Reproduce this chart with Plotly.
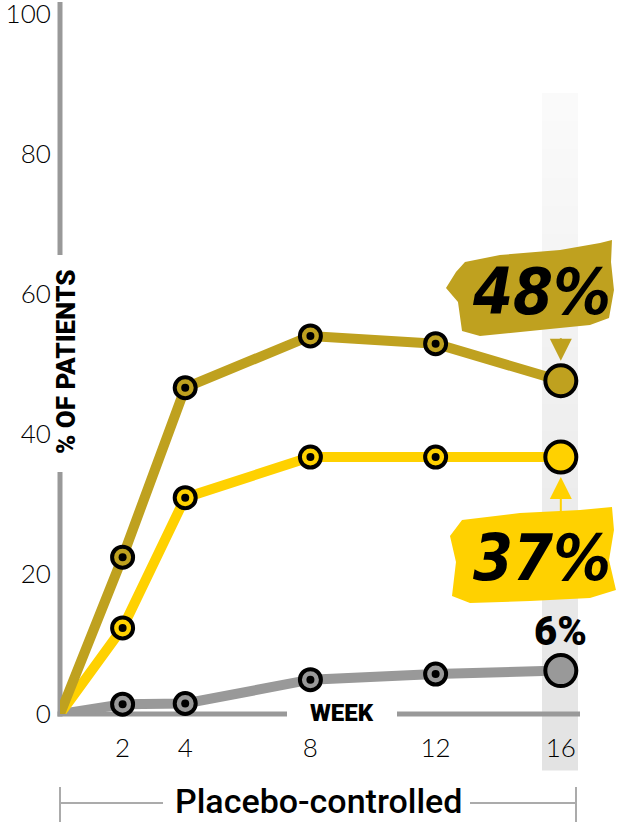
import plotly.graph_objects as go

# values (% of patients by week)
weeks = [0, 2, 4, 8, 12, 16]
high_dose = [0, 22.4, 46.6, 54.0, 52.9, 47.6]
low_dose = [0, 12.3, 30.9, 36.7, 36.7, 36.7]
placebo = [0, 1.4, 1.5, 4.9, 5.7, 6.2]

ytick_vals = [0, 20, 40, 60, 80, 100]
xtick_vals = [2, 4, 8, 12, 16]
end_labels = ["48%", "37%", "6%"]

GOLD = "#BFA11F"
YELLOW = "#FFD100"
GRAY = "#999999"
BRACKET = "#ABABAB"

# plot area: x 60..630 px, y 2..714 px
def px_x(p):
    return (p - 60) / 570.0

def px_y(p):
    return (714 - p) / 712.0

fig = go.Figure()

series = [(placebo, GRAY), (low_dose, YELLOW), (high_dose, GOLD)]

for vals, col in series:
    fig.add_trace(go.Scatter(x=weeks, y=vals, mode="lines",
                             line=dict(color=col, width=10),
                             hoverinfo="skip"))

for vals, col in series:
    # ring markers for intermediate weeks
    fig.add_trace(go.Scatter(x=weeks[1:-1], y=vals[1:-1], mode="markers",
                             marker=dict(size=21, color=col, line=dict(color="black", width=4)),
                             cliponaxis=False, hoverinfo="skip"))
    fig.add_trace(go.Scatter(x=weeks[1:-1], y=vals[1:-1], mode="markers",
                             marker=dict(size=8, color="black"),
                             cliponaxis=False, hoverinfo="skip"))
    # big end point
    fig.add_trace(go.Scatter(x=weeks[-1:], y=vals[-1:], mode="markers",
                             marker=dict(size=31, color=col, line=dict(color="black", width=4)),
                             cliponaxis=False, hoverinfo="skip"))

shapes = []

# shaded week-16 column, fading toward the top
n = 24
top, bot = 93, 770
for i in range(n):
    t = i / (n - 1)
    g = int(round(250 - (250 - 227) * t))
    y0 = top + (bot - top) * i / n
    y1 = top + (bot - top) * (i + 1) / n
    shapes.append(dict(type="rect", xref="paper", yref="paper",
                       x0=px_x(542), x1=px_x(578), y0=px_y(y1 + 0.5), y1=px_y(y0),
                       fillcolor="rgb(%d,%d,%d)" % (g, g, g), line=dict(width=0), layer="below"))

# broken axis lines
axis_segments = [
    (60, 2, 60, 255), (60, 472, 60, 716.5),
    (57.5, 714, 287, 714), (397, 714, 580, 714),
]
for x0, y0, x1, y1 in axis_segments:
    shapes.append(dict(type="line", xref="paper", yref="paper",
                       x0=px_x(x0), y0=px_y(y0), x1=px_x(x1), y1=px_y(y1),
                       line=dict(color=GRAY, width=5), layer="below"))

# bracket under the x axis
for x0, y0, x1, y1 in [(60, 803, 163, 803), (470, 803, 576, 803),
                       (60, 787, 60, 822), (576, 787, 576, 822)]:
    shapes.append(dict(type="line", xref="paper", yref="paper",
                       x0=px_x(x0), y0=px_y(y0), x1=px_x(x1), y1=px_y(y1),
                       line=dict(color=BRACKET, width=2)))

# rough brush-stroke backgrounds behind the big numbers
def brush_path(pts):
    return "M " + " L ".join("%.4f,%.4f" % (px_x(a), px_y(b)) for a, b in pts) + " Z"

brush_48 = [(465, 262), (500, 255), (560, 250), (600, 243), (612, 240), (611, 262),
            (614, 290), (609, 318), (590, 325), (540, 330), (480, 336), (462, 331),
            (458, 302), (446, 288), (456, 272)]
brush_37 = [(462, 520), (520, 513), (580, 510), (612, 507), (614, 530), (609, 560),
            (616, 590), (590, 598), (530, 601), (470, 603), (452, 596), (456, 562),
            (450, 536)]
shapes.append(dict(type="path", xref="paper", yref="paper", path=brush_path(brush_48),
                   fillcolor=GOLD, line=dict(width=0)))
shapes.append(dict(type="path", xref="paper", yref="paper", path=brush_path(brush_37),
                   fillcolor=YELLOW, line=dict(width=0)))

brush_font = dict(family="DejaVu Sans Condensed, Noto Sans", size=64, color="black",
                  style="italic", weight="bold")
heavy = "Roboto"

def label(px, py, text, font, **kw):
    return dict(xref="paper", yref="paper", x=px_x(px), y=px_y(py), text=text,
                showarrow=False, xanchor="center", yanchor="middle", font=font, **kw)

annotations = [
    label(541, 292, end_labels[0], brush_font),
    label(542, 558, end_labels[1], brush_font),
    dict(x=weeks[-1], y=placebo[-1], text=end_labels[2], showarrow=False, yshift=39,
         xanchor="center", yanchor="middle",
         font=dict(family=heavy, size=40, color="black", weight=900)),
    # arrows to the end points
    dict(x=weeks[-1], y=high_dose[-1], text="", showarrow=True, ax=0, ay=-44,
         arrowhead=2, arrowsize=2.2, arrowwidth=2, arrowcolor=GOLD, standoff=20),
    dict(x=weeks[-1], y=low_dose[-1], text="", showarrow=True, ax=0, ay=56,
         arrowhead=2, arrowsize=2.2, arrowwidth=2, arrowcolor=YELLOW, standoff=20),
    # axis titles
    label(66, 362, "% OF PATIENTS", dict(family=heavy, size=26, color="black", weight=900),
          textangle=-90),
    label(342, 713, "WEEK", dict(family=heavy, size=24, color="black", weight=900)),
    label(318, 801, "Placebo-controlled", dict(family=heavy, size=34, color="black", weight=500)),
]

tick_font = dict(family="Lato", size=26, color="black", weight=300)

fig.update_layout(
    template="none",
    width=640, height=822,
    margin=dict(l=60, r=10, t=2, b=108),
    paper_bgcolor="white", plot_bgcolor="white",
    showlegend=False, hovermode=False,
    shapes=shapes, annotations=annotations,
    xaxis=dict(range=[0, 18.21], tickvals=xtick_vals, showgrid=False, zeroline=False,
               showline=False, ticks="outside", ticklen=11, tickcolor="rgba(0,0,0,0)",
               tickfont=tick_font, automargin=False, ticklabeloverflow="allow"),
    yaxis=dict(range=[0, 101.7], tickvals=ytick_vals, showgrid=False, zeroline=False,
               showline=False, ticks="outside", ticklen=3, tickcolor="rgba(0,0,0,0)",
               tickfont=tick_font, automargin=False, ticklabeloverflow="allow"),
)

# page has a default 8px body margin; drop it so the figure fills the window
fig.write_html("out.html", config={"displayModeBar": False},
               post_script="document.body.style.margin='0';")
